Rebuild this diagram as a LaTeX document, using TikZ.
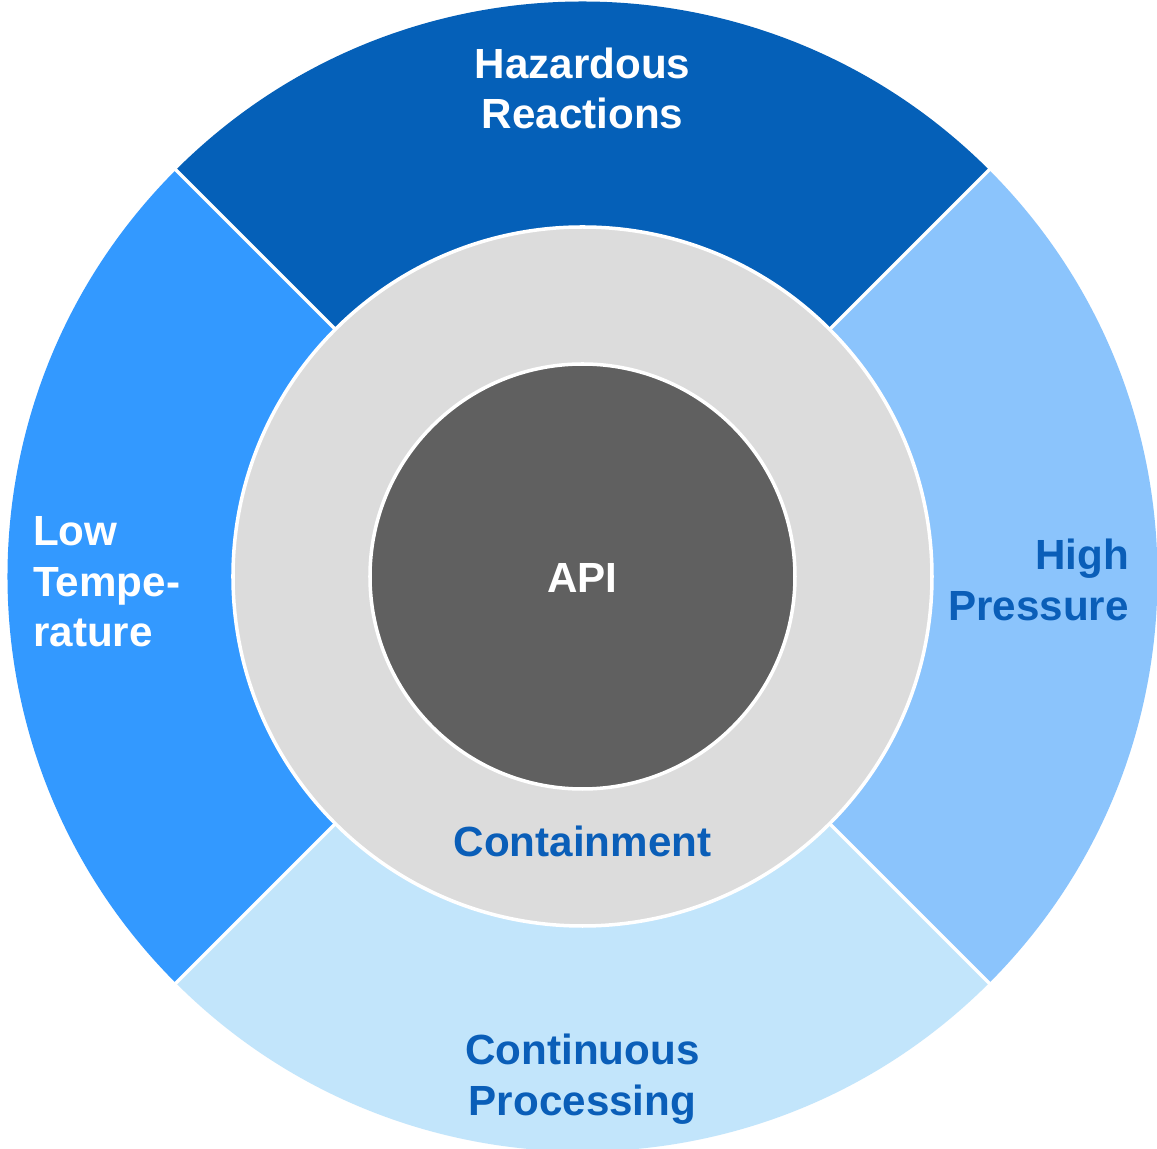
\documentclass[tikz,border=0pt]{standalone}
\usepackage{fontspec}
\setmainfont{Liberation Sans}
\definecolor{cTop}{HTML}{0560B8}
\definecolor{cLeft}{HTML}{3399FF}
\definecolor{cRight}{HTML}{8BC4FC}
\definecolor{cBottom}{HTML}{C2E5FB}
\definecolor{cRing}{HTML}{DCDCDC}
\definecolor{cCore}{HTML}{606060}
\definecolor{cText}{HTML}{0A5EB8}
\begin{document}
\begin{tikzpicture}[
  lbl/.style={font=\fontsize{12pt}{14.4pt}\selectfont\bfseries, inner sep=0pt},
  sep/.style={draw=white, line width=1pt},
]
\useasboundingbox (-5.825,-5.725) rectangle (5.745,5.765);
\fill[white] (-5.825,-5.725) rectangle (5.745,5.765);
\begin{scope}
\clip (-5.825,-5.725) rectangle (5.745,5.765);
\fill[cTop] (0,0) -- (45:5.75) arc[start angle=45,end angle=135,radius=5.75cm] -- cycle;
\fill[cLeft] (0,0) -- (135:5.75) arc[start angle=135,end angle=225,radius=5.75cm] -- cycle;
\fill[cBottom] (0,0) -- (225:5.75) arc[start angle=225,end angle=315,radius=5.75cm] -- cycle;
\fill[cRight] (0,0) -- (-45:5.75) arc[start angle=-45,end angle=45,radius=5.75cm] -- cycle;
\foreach \a in {45,135,225,315} \draw[sep] (0,0) -- (\a:5.9);
\end{scope}
\filldraw[fill=cRing, sep] (0,0) circle (3.495);
\filldraw[fill=cCore, sep] (0,0) circle (2.125);
\node[lbl, text=white, align=center, anchor=base] (haz) at (0,4.475) {Hazardous\\Reactions};
\node[lbl, text=white, align=left, anchor=base west] (low) at (-5.50,-0.705) {Low\\Tempe-\\rature};
\node[lbl, text=cText, align=right, anchor=base east] (high) at (5.47,-0.44) {High\\Pressure};
\node[lbl, text=white] (api) at (0,-0.015) {API};
\node[lbl, text=cText, anchor=base] (cont) at (0,-2.80) {Containment};
\node[lbl, text=cText, align=center, anchor=base] (proc) at (0,-5.39) {Continuous\\Processing};
\end{tikzpicture}
\end{document}
